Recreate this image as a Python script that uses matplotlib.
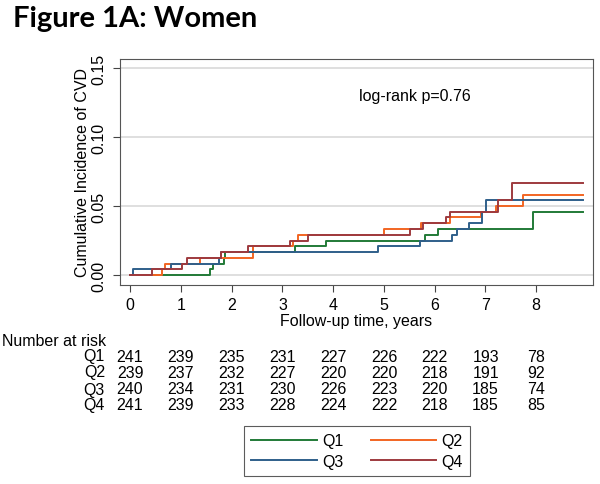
import matplotlib
matplotlib.use("Agg")
import matplotlib.pyplot as plt
from matplotlib.lines import Line2D

plt.rcParams['font.family'] = ['Liberation Sans', 'DejaVu Sans']

# datos (tiempo del evento, incidencia acumulada)
groups = ["Q1", "Q2", "Q3", "Q4"]
colors = ["#217a37", "#f26522", "#2f5f8a", "#9e3a3e"]
t_end = 8.93

q1_t = [0, 1.57, 1.63, 1.85, 1.87, 3.25, 3.86, 5.81, 6.06, 7.93]
q1_y = [0, 0.0042, 0.0083, 0.0125, 0.0167, 0.0208, 0.0250, 0.0292, 0.0333, 0.0458]
q2_t = [0, 0.63, 0.68, 1.38, 2.43, 3.21, 3.31, 5.0, 5.74, 6.3, 6.92, 7.2, 7.74]
q2_y = [0, 0.0042, 0.0083, 0.0125, 0.0208, 0.0250, 0.0292, 0.0333, 0.0375, 0.0417,
        0.0458, 0.0500, 0.0583]
q3_t = [0, 0.05, 0.8, 1.75, 1.8, 4.89, 5.71, 6.35, 6.45, 6.67, 6.94, 7.02]
q3_y = [0, 0.0042, 0.0083, 0.0125, 0.0167, 0.0208, 0.0250, 0.0292, 0.0333, 0.0375,
        0.0458, 0.0542]
q4_t = [0, 0.43, 1.03, 1.13, 1.8, 2.33, 3.15, 3.5, 5.51, 5.77, 6.22, 6.3, 7.25, 7.52]
q4_y = [0, 0.0042, 0.0083, 0.0125, 0.0167, 0.0208, 0.0250, 0.0292, 0.0333, 0.0375,
        0.0417, 0.0458, 0.0542, 0.0667]

# numero en riesgo
risk_times = [0, 1, 2, 3, 4, 5, 6, 7, 8]
risk_q1 = [241, 239, 235, 231, 227, 226, 222, 193, 78]
risk_q2 = [239, 237, 232, 227, 220, 220, 218, 191, 92]
risk_q3 = [240, 234, 231, 230, 226, 223, 220, 185, 74]
risk_q4 = [241, 239, 233, 228, 224, 222, 218, 185, 85]

series = [(q1_t, q1_y), (q2_t, q2_y), (q3_t, q3_y), (q4_t, q4_y)]
risks = [risk_q1, risk_q2, risk_q3, risk_q4]

fig = plt.figure(figsize=(6, 4.85), dpi=100)
ax = fig.add_axes([0.2, 0.4103, 0.7883, 0.466])

for (t, y), c in zip(series, colors):
    ax.step(t + [t_end], y + [y[-1]], where='post', color=c, lw=1.4)

ax.set_xlim(-0.2, 9.12)
ax.set_ylim(-0.0072, 0.1565)
ax.set_xticks(risk_times)
ax.set_yticks([0, 0.05, 0.10, 0.15])
ax.set_yticklabels(["0.00", "0.05", "0.10", "0.15"], rotation=90, va='center')
ax.tick_params(labelsize=11.5, length=5, color='#444444')
ax.tick_params(axis='y', pad=5)
ax.grid(axis='y', color='#dcdcdc', lw=1.3)
ax.set_axisbelow(True)
for s in ax.spines.values():
    s.set_color('#555555')
ax.set_xlabel("Follow-up time, years", fontsize=11.5, labelpad=1)
ax.set_ylabel("Cumulative Incidence of CVD", fontsize=11.5, labelpad=1)
fig.text(415 / 600, 1 - 97 / 485, "log-rank p=0.76", fontsize=11.5, ha='center', va='center')

fig.text(13 / 600, 1 - 19 / 485, "Figure 1A: Women", fontsize=21, fontweight='bold',
         family='Lato', ha='left', va='center')

# tabla de numero en riesgo
def fx(t):
    return (130 + 50.8 * t) / 600

fig.text(2 / 600, 1 - 342 / 485, "Number at risk", fontsize=11.5, va='center')
rows_y = [357, 373, 390, 406]
for g, r, yy in zip(groups, risks, rows_y):
    fig.text(105 / 600, 1 - yy / 485, g, fontsize=11.5, ha='right', va='center')
    for t, n in zip(risk_times, r):
        fig.text(fx(t), 1 - yy / 485, str(n), fontsize=11.5, ha='center', va='center')

# leyenda en orden por filas: Q1 Q2 / Q3 Q4
handles = [Line2D([0], [0], color=c, lw=1.4) for c in colors]
order = [0, 2, 1, 3]
leg = fig.legend([handles[i] for i in order], [groups[i] for i in order], ncol=2,
                 loc='center', bbox_to_anchor=(357 / 600, 1 - 452 / 485),
                 fontsize=11.5, frameon=True, fancybox=False, handlelength=4.1,
                 columnspacing=1.7, handletextpad=0.35, borderpad=0.45, labelspacing=0.35)
leg.get_frame().set_edgecolor('#333333')
leg.get_frame().set_linewidth(0.8)

fig.savefig("out.png", dpi=100)
